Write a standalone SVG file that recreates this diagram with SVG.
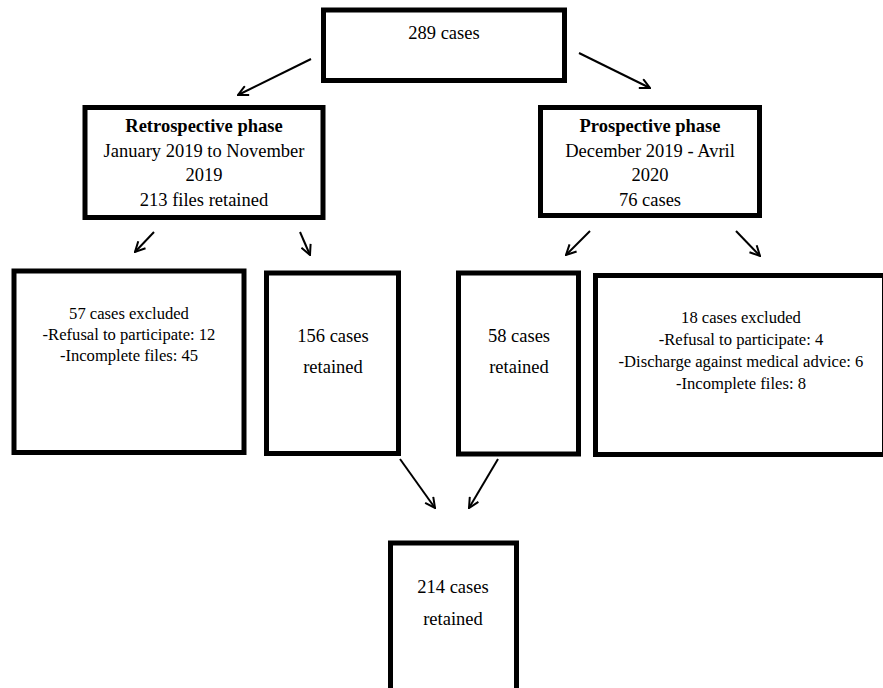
<svg xmlns="http://www.w3.org/2000/svg" width="883" height="688" viewBox="0 0 883 688">
<style>
.box{fill:#fff;stroke:#000;stroke-width:5}
.t{font-family:"Liberation Serif","Times New Roman",serif;font-size:18.5px;fill:#000;text-anchor:middle}
.s{font-family:"Liberation Serif","Times New Roman",serif;font-size:16.6px;fill:#000;text-anchor:middle}
.b{font-weight:bold}
.c{stroke:#000;stroke-width:2;fill:none;marker-end:url(#ah)}
</style>
<defs>
<marker id="ah" viewBox="0 0 12 12" refX="11" refY="6" markerWidth="12" markerHeight="12" markerUnits="userSpaceOnUse" orient="auto">
<path d="M1,1 L11,6 L1,11" fill="none" stroke="#000" stroke-width="2"/>
</marker>
</defs>
<rect width="883" height="688" fill="#fff"/>
<g id="n289">
<rect class="box" x="323.5" y="10" width="241" height="70.5"/>
<text class="t" x="444" y="39">289 cases</text>
</g>
<g id="retro">
<rect class="box" x="85" y="107.5" width="238" height="110"/>
<text class="t b" x="204" y="132">Retrospective phase</text>
<text class="t" x="204" y="157">January 2019 to November</text>
<text class="t" x="204" y="181">2019</text>
<text class="t" x="204" y="206">213 files retained</text>
</g>
<g id="pro">
<rect class="box" x="540.5" y="107.5" width="219" height="108"/>
<text class="t b" x="650" y="132">Prospective phase</text>
<text class="t" x="650" y="157">December 2019 - Avril</text>
<text class="t" x="650" y="181">2020</text>
<text class="t" x="650" y="206">76 cases</text>
</g>
<g id="excl57">
<rect class="box" x="14" y="271" width="230" height="181.5"/>
<text class="s" x="129" y="319">57 cases excluded</text>
<text class="s" x="129" y="340">-Refusal to participate: 12</text>
<text class="s" x="129" y="361">-Incomplete files: 45</text>
</g>
<g id="ret156">
<rect class="box" x="266.5" y="273" width="132" height="180.5"/>
<text class="t" x="333" y="342">156 cases</text>
<text class="t" x="333" y="373">retained</text>
</g>
<g id="ret58">
<rect class="box" x="458.5" y="273" width="120" height="181"/>
<text class="t" x="519" y="342">58 cases</text>
<text class="t" x="519" y="373">retained</text>
</g>
<g id="excl18">
<rect class="box" x="595.5" y="275.5" width="289" height="179"/>
<text class="s" x="741" y="323">18 cases excluded</text>
<text class="s" x="741" y="345">-Refusal to participate: 4</text>
<text class="s" x="741" y="367">-Discharge against medical advice: 6</text>
<text class="s" x="741" y="389">-Incomplete files: 8</text>
</g>
<g id="ret214">
<rect class="box" x="390.5" y="543" width="126" height="200"/>
<text class="t" x="453" y="593">214 cases</text>
<text class="t" x="453" y="625">retained</text>
</g>
<g id="connectors">
<line class="c" x1="311" y1="59" x2="238" y2="95"/>
<line class="c" x1="579" y1="53" x2="650" y2="88"/>
<line class="c" x1="154" y1="232" x2="135" y2="252"/>
<line class="c" x1="300" y1="232" x2="310" y2="255"/>
<line class="c" x1="590" y1="231" x2="566" y2="255"/>
<line class="c" x1="736" y1="231" x2="760" y2="256"/>
<line class="c" x1="400" y1="459" x2="435" y2="508"/>
<line class="c" x1="498" y1="459" x2="469" y2="508"/>
</g>
</svg>
